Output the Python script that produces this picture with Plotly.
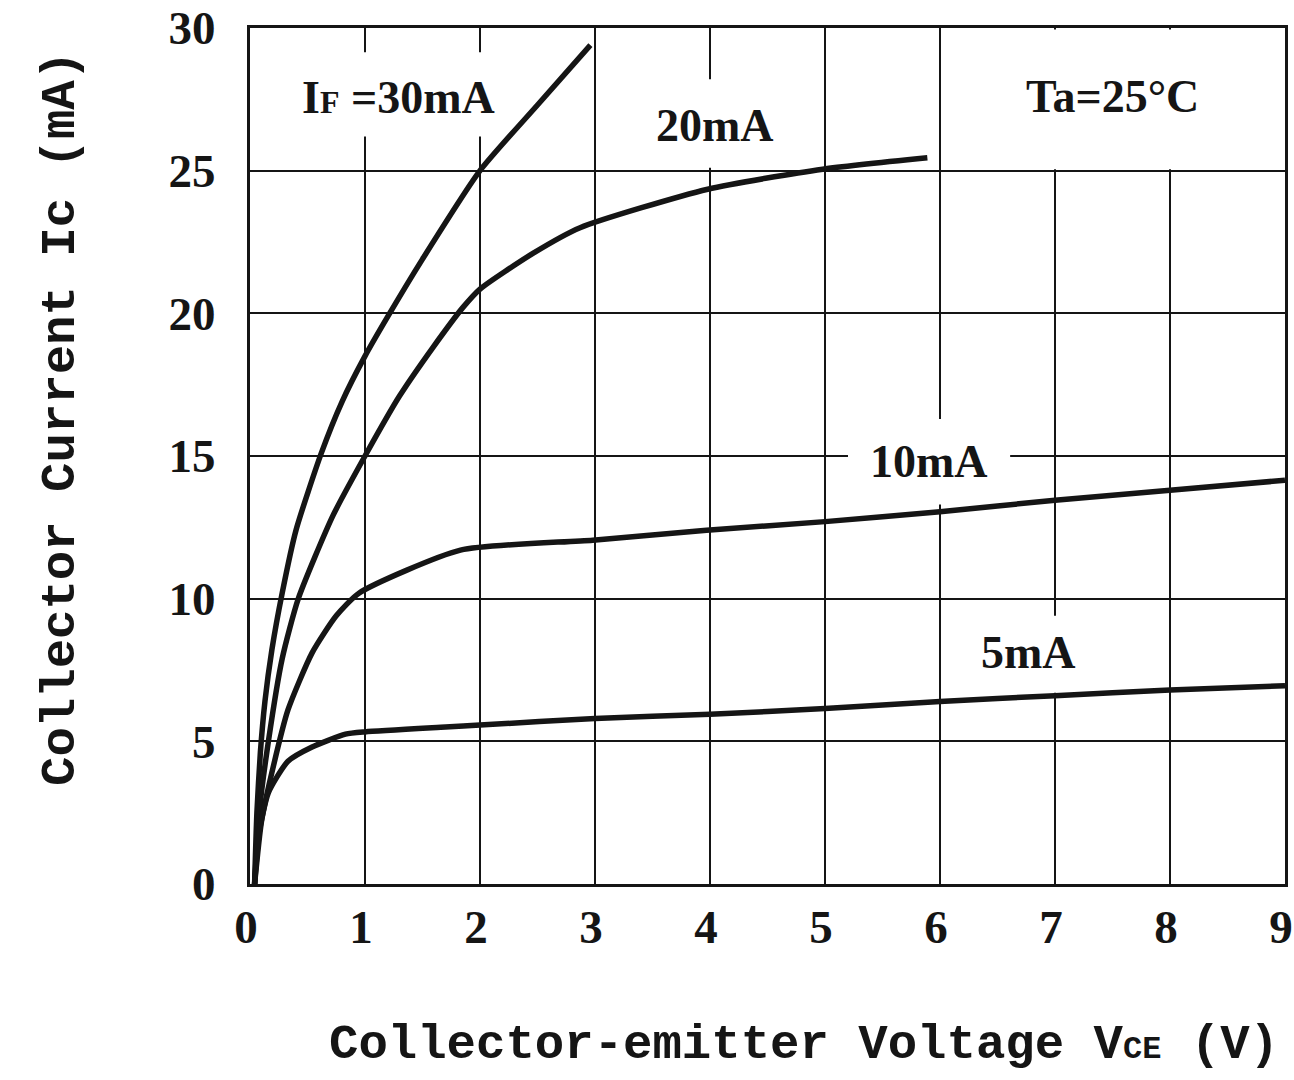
import plotly.graph_objects as go

# ---- data ----
x_ticks = [0, 1, 2, 3, 4, 5, 6, 7, 8, 9]
y_ticks = [0, 5, 10, 15, 20, 25, 30]

x30 = [0.04, 0.06, 0.09, 0.13, 0.19, 0.28, 0.40, 0.62, 0.80, 1.0, 1.20, 1.50, 2.0, 2.5, 2.96]
y30 = [0.0, 2.5, 4.6, 6.4, 8.2, 10.2, 12.4, 15.1, 16.9, 18.5, 19.9, 21.9, 25.0, 27.3, 29.4]

x20 = [0.04, 0.08, 0.16, 0.28, 0.42, 0.72, 1.0, 1.30, 1.59, 1.85, 2.0, 2.46, 2.87, 3.98, 4.98, 5.89]
y20 = [0.0, 2.5, 5.0, 7.9, 10.0, 12.9, 15.0, 17.1, 18.8, 20.2, 20.85, 22.1, 23.0, 24.35, 25.05, 25.45]

x10 = [0.04, 0.10, 0.19, 0.33, 0.54, 0.75, 0.95, 1.83, 2.98, 3.97, 5.0, 6.0, 7.0, 8.0, 9.0]
y10 = [0.0, 2.2, 3.9, 6.1, 8.1, 9.4, 10.2, 11.7, 12.05, 12.4, 12.7, 13.05, 13.45, 13.8, 14.15]

x5 = [0.04, 0.08, 0.16, 0.33, 0.54, 0.83, 1.0, 1.70, 2.0, 3.0, 4.0, 5.0, 6.0, 7.0, 8.0, 9.0]
y5 = [0.0, 1.8, 3.2, 4.3, 4.8, 5.25, 5.33, 5.5, 5.57, 5.8, 5.95, 6.15, 6.4, 6.6, 6.8, 6.95]

series = [("30mA", x30, y30), ("20mA", x20, y20), ("10mA", x10, y10), ("5mA", x5, y5)]

# curve labels: (x, y, text) and the white panel behind each (x0, x1, y0, y1)
labels = [
    (1.29, 27.55, "I<span style='font-size:32px'>F</span> =30mA"),
    (4.04, 26.6, "20mA"),
    (7.5, 27.6, "Ta=25°C"),
    (5.90, 14.8, "10mA"),
    (6.77, 8.1, "5mA"),
]
label_panels = [
    (0.43, 2.15, 26.2, 29.15),
    (3.52, 4.57, 25.1, 28.2),
    (6.02, 8.98, 25.05, 29.95),
    (5.20, 6.61, 13.3, 16.3),
    (6.33, 7.20, 6.7, 9.4),
]

fig = go.Figure()
for name, xs, ys in series:
    fig.add_trace(go.Scatter(x=xs, y=ys, mode="lines", name=name,
                             line=dict(color="#151515", width=5.5, shape="spline", smoothing=0.6),
                             hoverinfo="skip"))

for x0, x1, y0, y1 in label_panels:
    fig.add_shape(type="rect", xref="x", yref="y", x0=x0, x1=x1, y0=y0, y1=y1,
                  fillcolor="white", line=dict(width=0), layer="between")

label_font = dict(family="Liberation Serif", size=46, color="#151515", weight="bold")
title_font = dict(family="Liberation Mono", size=49, color="#151515", weight="bold")

for x, y, t in labels:
    fig.add_annotation(xref="x", yref="y", x=x, y=y, text=t, showarrow=False,
                       font=label_font, xanchor="center", yanchor="middle")

fig.add_annotation(xref="paper", yref="paper", x=0.535, y=-0.188, showarrow=False,
                   xanchor="center", yanchor="middle",
                   text="Collector-emitter Voltage V<span style='font-size:32px'>CE</span> (V)",
                   font=title_font)
fig.add_annotation(xref="paper", yref="paper", x=-0.182, y=0.544, showarrow=False,
                   xanchor="center", yanchor="middle",
                   textangle=-90, text="Collector Current Ic (mA)", font=title_font)

axis_common = dict(showgrid=True, gridcolor="#151515", gridwidth=2.2,
                   showline=True, mirror=True, linecolor="#151515", linewidth=3,
                   zeroline=False, ticks="", automargin=False, ticklabeloverflow="allow",
                   tickfont=dict(family="Liberation Serif", size=47,
                                 color="#151515", weight="bold"))
fig.update_xaxes(range=[0, 9], tickvals=x_ticks, ticktext=[str(v) for v in x_ticks],
                 ticklabelstandoff=0, ticklabelshift=-4, **axis_common)
fig.update_yaxes(range=[0, 30], tickvals=y_ticks, ticktext=[str(v) for v in y_ticks],
                 ticklabelstandoff=22, **axis_common)

fig.update_layout(width=1294, height=1080, showlegend=False,
                  paper_bgcolor="white", plot_bgcolor="white",
                  margin=dict(l=250, r=9, t=28, b=196))

# remove the browser's default 8px body margin so the figure fills the window
fig.write_html("out.html", config={"displayModeBar": False},
               post_script="document.body.style.margin='0px';")
